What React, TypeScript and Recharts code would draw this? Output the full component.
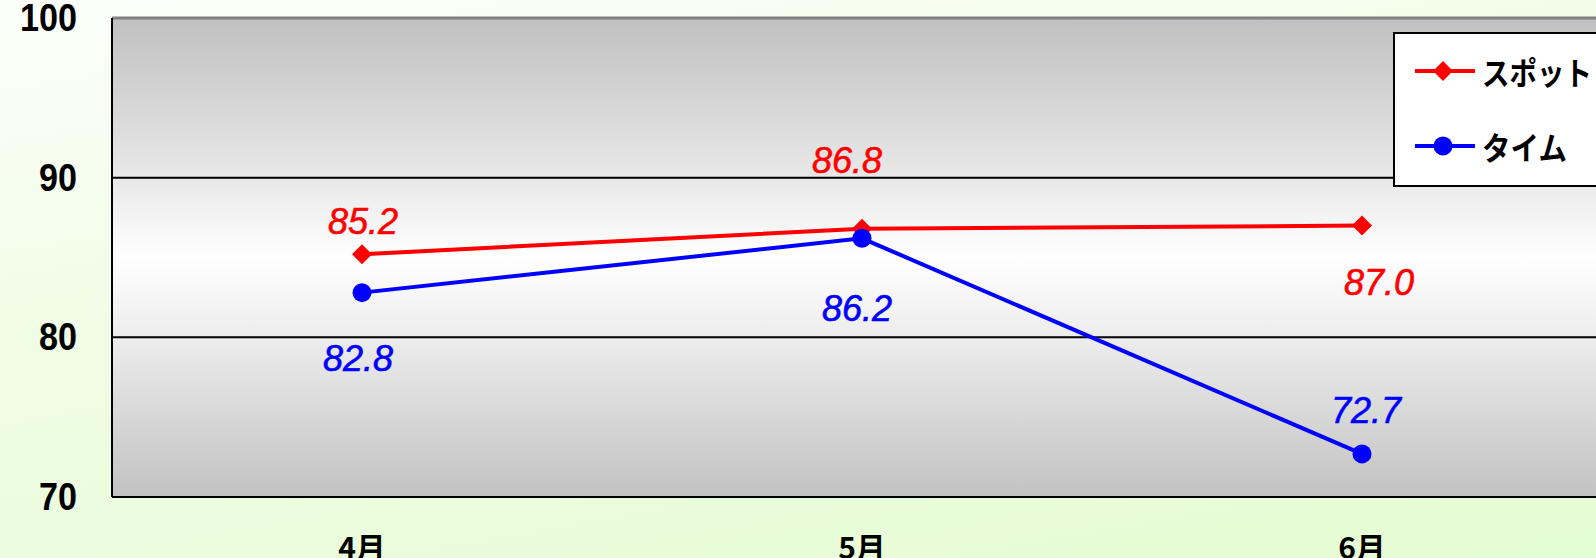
import React from "react";
import { LineChart, Line, XAxis, YAxis, CartesianGrid, ReferenceLine, LabelList } from "recharts";

const months = ["4月", "5月", "6月"];
const spot = [85.2, 86.8, 87.0];
const time = [82.8, 86.2, 72.7];
const yTicks = [70, 80, 90, 100];

const data = months.map((m, i) => ({ month: m, spot: spot[i], time: time[i] }));

// label placement per point (Excel-like)
const spotOffsets = [
  { dx: 1, dy: -33 },
  { dx: -15, dy: -68 },
  { dx: 17, dy: 57 },
];
const timeOffsets = [
  { dx: -4, dy: 66 },
  { dx: -5, dy: 70 },
  { dx: 4, dy: -43 },
];

const FONT = "'Liberation Sans', Arial, sans-serif";
const JP = "'Noto Sans CJK JP', sans-serif";

const Diamond = (props: any) => {
  const { cx, cy, fill } = props;
  if (cx == null || cy == null) return null;
  const s = 10;
  return <polygon points={`${cx},${cy - s} ${cx + s},${cy} ${cx},${cy + s} ${cx - s},${cy}`} fill={fill} />;
};

const Circle = (props: any) => {
  const { cx, cy, fill } = props;
  if (cx == null || cy == null) return null;
  return <circle cx={cx} cy={cy} r={9.5} fill={fill} />;
};

const makeLabel = (color: string, offsets: { dx: number; dy: number }[]) => (props: any) => {
  const { x, y, value, index } = props;
  const o = offsets[index] || { dx: 0, dy: 0 };
  return (
    <text
      x={x + o.dx}
      y={y + o.dy}
      textAnchor="middle"
      dominantBaseline="central"
      fill={color}
      stroke={color}
      strokeWidth={0.6}
      fontSize={36}
      fontStyle="italic"
      fontFamily={FONT}
    >
      {Number(value).toFixed(1)}
    </text>
  );
};

const YTick = (props: any) => {
  const { x, y, payload } = props;
  const s = String(payload.value);
  return (
    <text
      x={x - 35}
      y={y}
      textAnchor="end"
      dominantBaseline="central"
      fontSize={38}
      fontWeight="bold"
      fontFamily={FONT}
      fill="#000"
      textLength={s.length * 19}
      lengthAdjust="spacingAndGlyphs"
    >
      {s}
    </text>
  );
};

const XTick = (props: any) => {
  const { x, payload } = props;
  return (
    <text
      x={x}
      y={546}
      textAnchor="middle"
      dominantBaseline="central"
      fontSize={30}
      fontWeight="bold"
      fontFamily={JP}
      fill="#000"
    >
      {payload.value}
    </text>
  );
};

const series = [
  { name: "スポット", color: "#ff0000", shape: "diamond", len: 110 },
  { name: "タイム", color: "#0000ff", shape: "circle", len: 85 },
];

const LegendBox = () => (
  <svg width={240} height={156} style={{ display: "block" }}>
    <rect x={1} y={1} width={260} height={153} fill="#fff" stroke="#000" strokeWidth={2} />
    {series.map((s, i) => {
      const cy = 39 + i * 75;
      return (
        <g key={s.name}>
          <line x1={22} x2={82} y1={cy} y2={cy} stroke={s.color} strokeWidth={4} />
          {s.shape === "diamond" ? (
            <polygon points={`50,${cy - 10} 60,${cy} 50,${cy + 10} 40,${cy}`} fill={s.color} />
          ) : (
            <circle cx={50} cy={cy} r={9.5} fill={s.color} />
          )}
          <text
            x={89}
            y={cy}
            dominantBaseline="central"
            fontSize={32}
            fontWeight="bold"
            fontFamily={JP}
            fill="#000"
            textLength={s.len}
            lengthAdjust="spacingAndGlyphs"
          >
            {s.name}
          </text>
        </g>
      );
    })}
  </svg>
);

export default function App() {
  return (
    <div
      style={{
        position: "absolute",
        left: 0,
        top: 0,
        width: 1596,
        height: 558,
        overflow: "hidden",
        background: "linear-gradient(170deg, #fdfffa 0%, #f0fde6 40%, #e4fcd2 100%)",
      }}
    >
      <LineChart width={1612} height={600} data={data} margin={{ top: 18, right: 0, left: 0, bottom: 0 }}>
        <defs>
          <linearGradient id="plotGrad" x1="0" y1="0" x2="0" y2="1">
            <stop offset="0%" stopColor="#c0c0c0" />
            <stop offset="33%" stopColor="#e8e8e8" />
            <stop offset="50%" stopColor="#ffffff" />
            <stop offset="67%" stopColor="#ececec" />
            <stop offset="100%" stopColor="#c2c2c2" />
          </linearGradient>
        </defs>
        <CartesianGrid vertical={false} fill="url(#plotGrad)" stroke="#000" strokeWidth={2} horizontalValues={[80, 90]} />
        <XAxis
          dataKey="month"
          padding={{ left: 250, right: 250 }}
          height={103}
          tickLine={false}
          axisLine={{ stroke: "#000", strokeWidth: 2 }}
          tick={<XTick />}
          interval={0}
        />
        <YAxis
          domain={[70, 100]}
          ticks={yTicks}
          width={112}
          tickLine={false}
          tickSize={0}
          tickMargin={0}
          axisLine={{ stroke: "#000", strokeWidth: 2 }}
          tick={<YTick />}
          interval={0}
        />
        <ReferenceLine y={100} stroke="#808080" strokeWidth={3} />
        <Line
          dataKey="spot"
          name="スポット"
          stroke="#ff0000"
          strokeWidth={4}
          dot={<Diamond fill="#ff0000" />}
          isAnimationActive={false}
        >
          <LabelList dataKey="spot" content={makeLabel("#ff0000", spotOffsets)} />
        </Line>
        <Line
          dataKey="time"
          name="タイム"
          stroke="#0000ff"
          strokeWidth={4}
          dot={<Circle fill="#0000ff" />}
          isAnimationActive={false}
        >
          <LabelList dataKey="time" content={makeLabel("#0000ff", timeOffsets)} />
        </Line>
      </LineChart>
      <div style={{ position: "absolute", left: 1393, top: 32 }}>
        <LegendBox />
      </div>
    </div>
  );
}
